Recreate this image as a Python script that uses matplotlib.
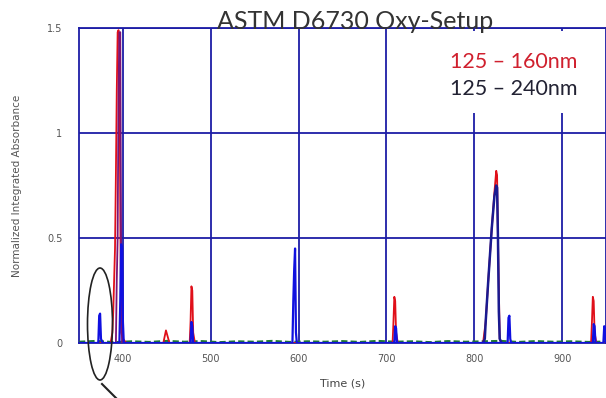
import matplotlib
matplotlib.use("Agg")
import matplotlib.pyplot as plt
from matplotlib.patches import Ellipse, Rectangle
from matplotlib.lines import Line2D

# 125-160nm trace (red)
red_t = [350, 386, 388, 389, 390, 391, 392, 393, 394, 395, 396, 397, 398, 400, 404,
         446, 448, 449, 451, 453, 476, 477, 478, 479, 480, 482,
         707, 708, 709, 710, 711, 713, 810, 813, 816, 820, 823, 825, 826, 827, 829, 831,
         933, 934, 935, 936, 937, 939, 950]
red_y = [0, 0, 0.05, 0.15, 0.3, 0.45, 0.8, 1.2, 1.48, 1.49, 1.45, 0.6, 0.05, 0.02, 0,
         0, 0.04, 0.06, 0.03, 0, 0, 0.1, 0.27, 0.25, 0.05, 0,
         0, 0.1, 0.22, 0.2, 0.05, 0, 0, 0.1, 0.3, 0.55, 0.72, 0.82, 0.8, 0.5, 0.02, 0,
         0, 0.1, 0.22, 0.2, 0.05, 0, 0]

# 125-240nm trace (blue)
blue_t = [350, 372, 373, 374, 375, 377, 396, 397, 398, 399, 400, 401,
          477, 478, 479, 480, 593, 594, 595, 596, 597, 598,
          709, 710, 711, 712, 838, 839, 840, 841, 842,
          935, 936, 937, 938, 947, 948, 949, 950]
blue_y = [0, 0, 0.13, 0.14, 0.02, 0, 0, 0.2, 0.47, 0.45, 0.1, 0,
          0, 0.1, 0.08, 0, 0, 0.2, 0.35, 0.45, 0.05, 0,
          0, 0.08, 0.07, 0, 0, 0.12, 0.13, 0.02, 0,
          0, 0.09, 0.08, 0, 0, 0.08, 0.07, 0]

# overlap near 396 s (purple)
purple_t = [392, 393, 394, 395, 396, 397, 398, 399]
purple_y = [0, 0.3, 0.5, 1.2, 1.48, 1.48, 0.4, 0]

# broad peak near 824 s (navy)
navy_t = [810, 812, 813, 816, 820, 823, 825, 826, 827, 828, 829, 831]
navy_y = [0, 0.02, 0.1, 0.3, 0.55, 0.7, 0.75, 0.74, 0.5, 0.15, 0.02, 0]

# baseline noise (green)
green_t = [350, 370, 390, 410, 430, 450, 470, 490, 510, 530, 550, 570, 590, 610, 630, 650,
           670, 690, 710, 730, 750, 770, 790, 810, 830, 850, 870, 890, 910, 930, 950]
green_y = [0.006, 0.01, 0.004, 0.008, 0.005, 0.01, 0.006, 0.009, 0.004, 0.008, 0.006, 0.01,
           0.005, 0.008, 0.006, 0.009, 0.005, 0.01, 0.006, 0.008, 0.004, 0.009, 0.006, 0.008,
           0.01, 0.005, 0.009, 0.006, 0.008, 0.005, 0.007]

x_ticks = [400, 500, 600, 700, 800, 900]
y_ticks = [0, 0.5, 1, 1.5]
y_tick_labels = ["0", "0.5", "1", "1.5"]

grid_c = "#1c1ca6"
W, H = 606, 398

fig = plt.figure(figsize=(W / 100, H / 100), dpi=100)
ax = fig.add_axes([79 / W, 1 - 343 / H, 527 / W, 315 / H])

ax.set_xlim(350, 950)
ax.set_ylim(0, 1.5)
ax.set_xticks(x_ticks)
ax.set_yticks(y_ticks)
ax.set_yticklabels(y_tick_labels)
ax.tick_params(length=0, labelsize=7, colors="#555555", pad=12)
ax.tick_params(axis="x", pad=8)
ax.grid(True, color=grid_c, lw=1.3)
ax.set_axisbelow(True)
for s in ax.spines.values():
    s.set_color(grid_c)
    s.set_linewidth(1.3)

ax.plot(green_t, green_y, color="#1e7a2e", lw=1.5, ls=(0, (3, 1.5)), zorder=3)
ax.plot(red_t, red_y, color="#e0101a", lw=1.3, zorder=4)
ax.plot(purple_t, purple_y, color="#7a1478", lw=1.3, zorder=4)
ax.plot(navy_t, navy_y, color="#1a1a90", lw=1.8, zorder=4)
ax.plot(blue_t, blue_y, color="#1010e0", lw=1.6, zorder=5)

ax.set_xlabel("Time (s)", fontsize=8, color="#444444", labelpad=10)
ax.set_ylabel("Normalized Integrated Absorbance", fontsize=7.5, color="#555555", labelpad=18)

# legend text box
fig.patches.append(Rectangle((446 / W, 1 - 113 / H), 157 / W, 82 / H, transform=fig.transFigure,
                             facecolor="white", edgecolor="none", zorder=10))
fig.text(450 / W, 1 - 62 / H, "125 \u2013 160nm", color="#d0202e", fontsize=15.5,
         family="Lato", va="center", zorder=11)
fig.text(450 / W, 1 - 89 / H, "125 \u2013 240nm", color="#222233", fontsize=15.5,
         family="Lato", va="center", zorder=11)

fig.text(355 / W, 1 - 29 / H, "ASTM D6730 Oxy-Setup", color="#333333", fontsize=18,
         family="Lato", ha="center", va="baseline", zorder=11)

# ellipse annotation
fig.patches.append(Ellipse((100 / W, 1 - 324 / H), 25 / W, 112 / H, transform=fig.transFigure,
                           fill=False, edgecolor="#222222", lw=1.2, zorder=12))
fig.lines.append(Line2D([102 / W, 116 / W], [1 - 384 / H, 1 - 398 / H], transform=fig.transFigure,
                        color="#222222", lw=1.5, zorder=12))

fig.savefig("out.png", dpi=100)
